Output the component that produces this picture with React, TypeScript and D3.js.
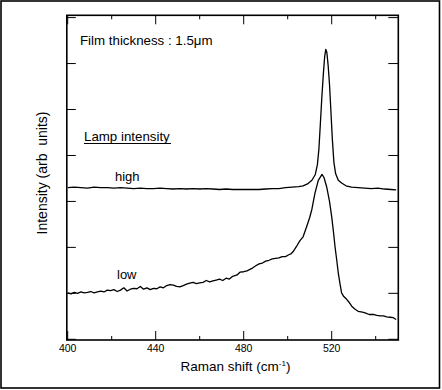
import React from "react";
import * as d3 from "d3";

const xTicksMajor = [400, 440, 480, 520];
const xTicksMinor = [420, 460, 500, 540];
const yTicks = [0, 1, 2, 3, 4, 5, 6, 7];

const highX = [400, 403, 406, 409, 412, 415, 418, 421, 424, 427, 430, 433, 436, 439, 442, 445, 448, 451, 454, 457, 460, 463, 466, 469, 472, 475, 478, 481, 484, 487, 490, 493, 496, 499, 502, 505, 507, 509, 511, 512.5, 513.5, 514.2, 514.8, 515.5, 516.2, 516.8, 517.3, 517.8, 518.4, 519, 519.6, 520.3, 521, 521.8, 523, 524.5, 526.5, 529, 532, 535, 538, 541, 544, 547, 549.3];
const highY = [3.30, 3.31, 3.30, 3.29, 3.31, 3.30, 3.30, 3.29, 3.30, 3.29, 3.28, 3.29, 3.28, 3.28, 3.29, 3.28, 3.27, 3.28, 3.27, 3.28, 3.27, 3.28, 3.27, 3.26, 3.27, 3.26, 3.26, 3.26, 3.26, 3.26, 3.27, 3.28, 3.28, 3.30, 3.31, 3.32, 3.34, 3.38, 3.46, 3.58, 3.80, 4.15, 4.65, 5.25, 5.77, 6.15, 6.31, 6.24, 5.95, 5.55, 5.00, 4.35, 3.85, 3.60, 3.46, 3.40, 3.34, 3.31, 3.30, 3.29, 3.28, 3.29, 3.27, 3.26, 3.25];

const lowX = [400, 401.5, 403, 404.5, 406, 407.5, 409, 410.5, 412, 413.5, 415, 416.5, 418, 419.5, 421, 422.5, 424, 425.5, 427, 428.5, 430, 431.5, 433, 434.5, 436, 437.5, 439, 440.5, 442, 443.5, 445, 446.5, 448, 449.5, 451, 452.5, 454, 455.5, 457, 458.5, 460, 461.5, 463, 464.5, 466, 467.5, 469, 470.5, 472, 473.5, 475, 477, 478.3, 480, 481.5, 482.8, 484, 485.5, 487, 488.5, 490, 491.5, 493, 494.5, 496, 497.5, 499, 500.5, 501.5, 502.5, 504, 505.5, 507, 508.6, 510, 511, 512.4, 513.9, 515.6, 516.5, 517.7, 519, 520, 521, 521.5, 522.3, 523, 523.8, 524.5, 525.5, 526.8, 528, 529.1, 530.5, 532, 534, 535.5, 537, 539, 540.5, 542, 543.5, 545, 546.5, 548, 549.3];
const lowY = [1.01, 0.99, 1.02, 1.00, 1.03, 1.01, 1.02, 1.04, 1.01, 1.03, 1.05, 1.03, 1.07, 1.06, 1.08, 1.04, 1.07, 1.12, 1.05, 1.09, 1.11, 1.10, 1.15, 1.09, 1.12, 1.08, 1.11, 1.10, 1.14, 1.12, 1.17, 1.19, 1.18, 1.15, 1.14, 1.17, 1.20, 1.22, 1.24, 1.21, 1.23, 1.24, 1.28, 1.25, 1.27, 1.29, 1.31, 1.28, 1.33, 1.31, 1.37, 1.40, 1.46, 1.47, 1.49, 1.52, 1.55, 1.60, 1.64, 1.66, 1.70, 1.72, 1.75, 1.76, 1.77, 1.80, 1.80, 1.84, 1.86, 1.91, 2.02, 2.14, 2.23, 2.45, 2.65, 2.83, 3.18, 3.46, 3.59, 3.52, 3.32, 3.00, 2.67, 2.25, 2.02, 1.72, 1.44, 1.20, 1.01, 0.93, 0.87, 0.80, 0.72, 0.66, 0.61, 0.59, 0.57, 0.54, 0.54, 0.52, 0.51, 0.51, 0.49, 0.48, 0.47, 0.43];

const seriesLabels = ["high", "low"];

export default function App() {
  const W = 442;
  const H = 390;
  const frameL = 66.8, frameR = 398.3, frameT = 15.3, frameB = 340;
  const x = d3.scaleLinear().domain([400, 550]).range([67.7, 397.7]);
  const y = d3.scaleLinear().domain([0, 7]).range([339.3, 17.6]);
  const line = d3.line<[number, number]>().x(d => x(d[0])).y(d => y(d[1]));
  const high: [number, number][] = highX.map((v, i) => [v, highY[i]]);
  const low: [number, number][] = lowX.map((v, i) => [v, lowY[i]]);
  const font = "'Liberation Sans', Arial, sans-serif";
  const major = 9, minor = 4;
  return (
    <svg width={W} height={H} style={{ position: "absolute", left: 0, top: 0, background: "#fff" }} fontFamily={font}>
      <rect x={1} y={1} width={438.5} height={387} fill="#fff" stroke="#000" strokeWidth={1.6} />
      {/* ticks */}
      <g stroke="#000" strokeWidth={1}>
        {xTicksMajor.map(t => (
          <g key={"M" + t}>
            <line x1={x(t)} x2={x(t)} y1={frameB} y2={frameB - major} />
            <line x1={x(t)} x2={x(t)} y1={frameT} y2={frameT + major} />
          </g>
        ))}
        {xTicksMinor.map(t => (
          <g key={"m" + t}>
            <line x1={x(t)} x2={x(t)} y1={frameB} y2={frameB - minor} />
            <line x1={x(t)} x2={x(t)} y1={frameT} y2={frameT + minor} />
          </g>
        ))}
        {yTicks.map(t => (
          <g key={"y" + t}>
            <line x1={frameL} x2={frameL + major} y1={y(t)} y2={y(t)} />
            <line x1={frameR} x2={frameR - major - 1} y1={y(t)} y2={y(t)} />
          </g>
        ))}
      </g>
      <rect x={frameL} y={frameT} width={frameR - frameL} height={frameB - frameT} fill="none" stroke="#000" strokeWidth={1.6} />
      {/* data */}
      <path d={line(high) || ""} fill="none" stroke="#000" strokeWidth={1.3} strokeLinejoin="round" />
      <path d={line(low) || ""} fill="none" stroke="#000" strokeWidth={1.3} strokeLinejoin="round" />
      {/* tick labels */}
      {xTicksMajor.map(t => (
        <text key={"l" + t} x={x(t)} y={352} fontSize={10.5} textAnchor="middle" fill="#000">{t}</text>
      ))}
      <text x={235.5} y={371} fontSize={13.5} textAnchor="middle" fill="#000">
        Raman shift (cm<tspan fontSize={8} dy={-5}>-1</tspan><tspan dy={5}>)</tspan>
      </text>
      <text transform="translate(46.5,173) rotate(-90)" fontSize={14} textAnchor="middle" fill="#000">
        Intensity (arb{"\u00A0"} units)
      </text>
      <text x={80} y={45} fontSize={13.3} fill="#000">Film thickness : 1.5μm</text>
      <text x={84} y={141} fontSize={13.3} fill="#000">Lamp intensity</text>
      <line x1={84} x2={171} y1={143.5} y2={143.5} stroke="#000" strokeWidth={1} />
      <text x={115} y={180.7} fontSize={13} fill="#000">{seriesLabels[0]}</text>
      <text x={117} y={279} fontSize={13} fill="#000">{seriesLabels[1]}</text>
    </svg>
  );
}
